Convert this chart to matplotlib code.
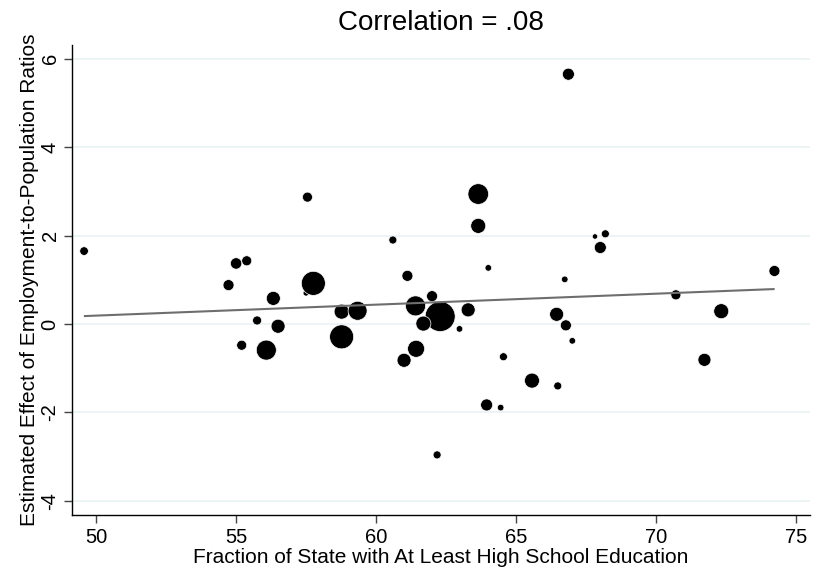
import matplotlib.pyplot as plt

plt.rcParams['font.family'] = ['Liberation Sans', 'DejaVu Sans']

# state-level points: education share, estimated effect, marker radius (px)
hs_share = [49.57, 55.0, 55.38, 54.73, 56.33, 55.75, 56.5, 55.2, 56.08, 57.5,
            57.55, 60.6, 63.65, 63.65, 64.01, 57.76, 61.12, 58.77, 59.34, 61.41,
            62.0, 62.29, 61.69, 63.29, 62.98, 58.77, 61.43, 61.0, 64.55, 65.57,
            63.95, 64.45, 62.18, 66.87, 67.82, 68.19, 68.01, 66.74, 74.23, 70.71,
            66.45, 66.78, 67.01, 72.33, 66.49, 71.73]
effect = [1.65, 1.37, 1.43, 0.88, 0.58, 0.08, -0.05, -0.48, -0.59, 0.70,
          2.87, 1.9, 2.94, 2.22, 1.27, 0.92, 1.09, 0.28, 0.30, 0.41,
          0.63, 0.17, 0.01, 0.32, -0.11, -0.29, -0.56, -0.82, -0.74, -1.28,
          -1.83, -1.89, -2.96, 5.65, 1.98, 2.04, 1.73, 1.01, 1.2, 0.66,
          0.22, -0.03, -0.38, 0.29, -1.4, -0.81]
radius = [4.3, 5.7, 5.0, 5.5, 7.0, 4.5, 7.0, 5.0, 10.0, 3.0,
          5.0, 4.0, 10.3, 7.5, 3.3, 12.0, 5.5, 7.5, 9.5, 10.0,
          5.5, 15.0, 7.5, 7.0, 3.3, 12.0, 8.5, 7.0, 4.0, 7.5,
          6.0, 3.3, 4.0, 6.0, 2.7, 4.0, 6.0, 3.3, 5.5, 5.0,
          7.0, 5.5, 3.3, 7.5, 4.0, 6.5]

# fitted line endpoints
fit_x = [49.6, 74.2]
fit_y = [0.18, 0.79]

x_ticks = [50, 55, 60, 65, 70, 75]
y_ticks = [-4, -2, 0, 2, 4, 6]

dpi = 100
fig = plt.figure(figsize=(8.13, 5.75), dpi=dpi)
ax = fig.add_axes([0.0886, 0.1043, 0.9077, 0.8174])

sizes = [(2 * r * 72 / dpi) ** 2 for r in radius]
ax.scatter(hs_share, effect, s=sizes, color='black', edgecolors='white',
           linewidths=0.5, zorder=3)
ax.plot(fit_x, fit_y, color='#6e6e6e', linewidth=1.5, zorder=4)

ax.set_xlim(49.14, 75.5)
ax.set_ylim(-4.32, 6.31)
ax.set_xticks(x_ticks)
ax.set_yticks(y_ticks)
ax.set_yticklabels([str(t) for t in y_ticks], rotation=90, va='center')
for t in y_ticks:
    ax.axhline(t, color='#eaf2f3', linewidth=1.2, zorder=1)

for side in ['top', 'right']:
    ax.spines[side].set_visible(False)
for side in ['left', 'bottom']:
    ax.spines[side].set_linewidth(1.0)
ax.tick_params(direction='out', length=6, width=1, labelsize=14.5, pad=3,
               color='#444444')

ax.set_xlabel("Fraction of State with At Least High School Education", fontsize=15, labelpad=1)
ax.set_ylabel("Estimated Effect of Employment-to-Population Ratios", fontsize=15, labelpad=1)
ax.set_title("Correlation = .08", fontsize=20, pad=11)

fig.savefig("out.png", dpi=dpi)
